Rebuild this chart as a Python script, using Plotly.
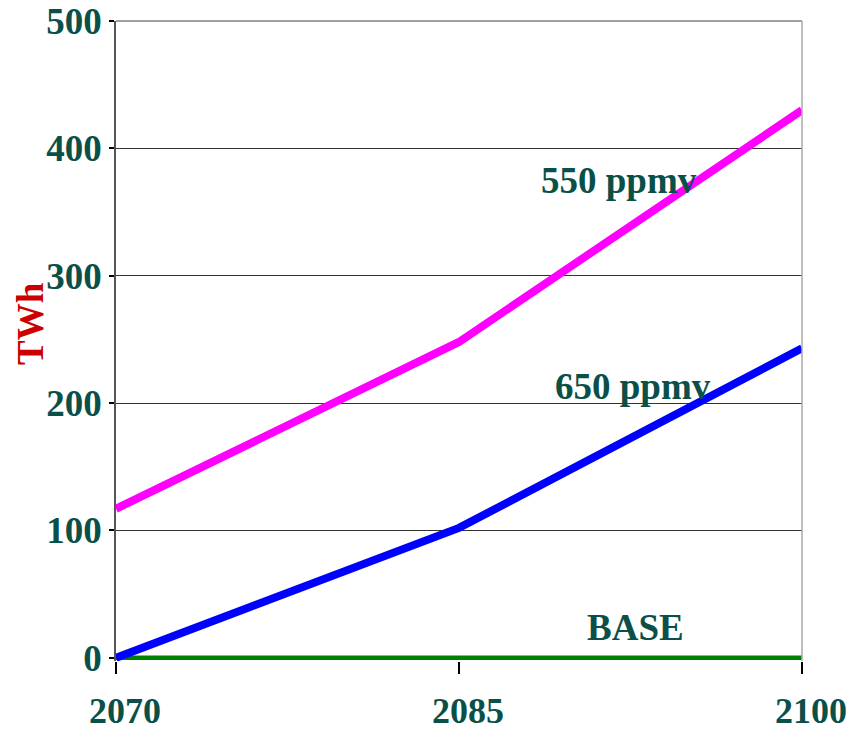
import plotly.graph_objects as go

# Years on the horizontal axis
years = [2070, 2085, 2100]

# Electricity demand (TWh) per scenario
ppmv_550 = [117, 248, 430]
ppmv_650 = [0, 102, 243]
base = [0, 0, 0]

# Scenario label positions (x = year, y = TWh)
label_text = ["550 ppmv", "650 ppmv", "BASE"]
label_x = [2092.0, 2092.6, 2092.7]
label_y = [375, 213, 24]

y_ticks = [0, 100, 200, 300, 400, 500]

TEXT = "#0b5048"
SERIF = "Liberation Serif"

fig = go.Figure()
fig.add_trace(go.Scatter(x=years, y=base, mode="lines",
                         line=dict(color="#008000", width=4.5)))
fig.add_trace(go.Scatter(x=years, y=ppmv_650, mode="lines",
                         line=dict(color="#0000ff", width=8)))
fig.add_trace(go.Scatter(x=years, y=ppmv_550, mode="lines",
                         line=dict(color="#ff00ff", width=8)))

for t, x, y in zip(label_text, label_x, label_y):
    fig.add_annotation(x=x, y=y, text=f"<b>{t}</b>", showarrow=False,
                       font=dict(family=SERIF, size=37, color=TEXT),
                       xanchor="center", yanchor="middle")

# Rotated axis title
fig.add_annotation(xref="paper", yref="paper", x=-0.125, y=0.527,
                   text="<b>TWh</b>", textangle=-90, showarrow=False,
                   font=dict(family=SERIF, size=37, color="#cc0000"),
                   xanchor="center", yanchor="middle")

# Top and right frame of the plot area
fig.add_shape(type="line", xref="paper", yref="paper", x0=0, x1=1, y0=1, y1=1,
              line=dict(color="#808080", width=1.5))
fig.add_shape(type="line", xref="paper", yref="paper", x0=1, x1=1, y0=0, y1=1,
              line=dict(color="#aaaaaa", width=1.5))

fig.update_layout(
    width=864, height=734,
    margin=dict(l=116, r=62, t=21, b=73),
    plot_bgcolor="white", paper_bgcolor="white",
    showlegend=False,
    font=dict(family=SERIF, color=TEXT),
)
fig.update_xaxes(
    range=[2070, 2100], tickvals=years,
    ticktext=[f"<b>{y}</b>" for y in years],
    tickfont=dict(family=SERIF, size=36, color=TEXT),
    ticks="outside", ticklen=12, tickcolor="black", tickwidth=1.5,
    ticklabelstandoff=6, ticklabelshift=9, automargin=False,
    showgrid=False, zeroline=False, showline=False,
)
fig.update_yaxes(
    range=[-2.5, 500], tickvals=y_ticks,
    ticktext=[f"<b>{v}</b>" for v in y_ticks],
    tickfont=dict(family=SERIF, size=37, color=TEXT),
    ticks="outside", ticklen=5, tickcolor="black", tickwidth=1.5,
    automargin=False,
    showgrid=True, gridcolor="#333333", gridwidth=1,
    zeroline=False, showline=True, linecolor="#555555", linewidth=1.5,
)

fig.write_html("out.html")
